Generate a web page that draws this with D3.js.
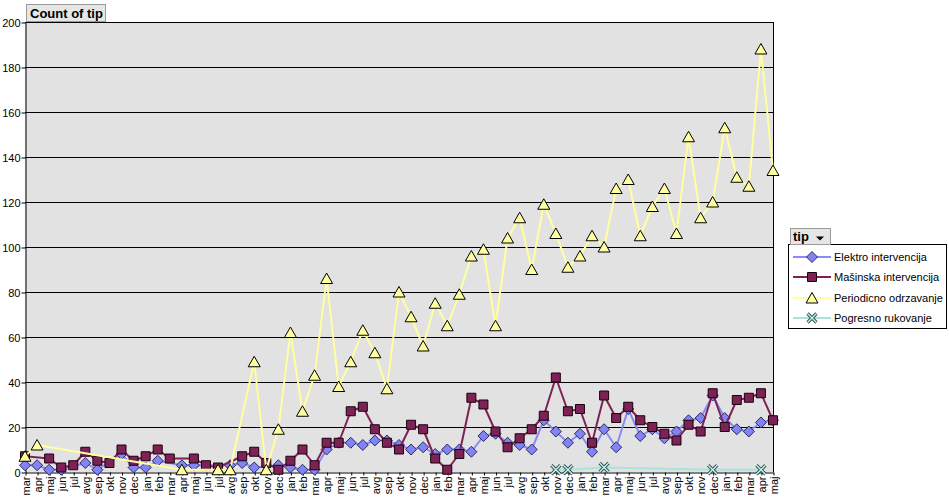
<!DOCTYPE html>
<html><head><meta charset="utf-8">
<script src="https://cdn.jsdelivr.net/npm/d3@7"></script>
<style>
html,body{margin:0;padding:0;background:#fff;}
svg{display:block;font-family:Arial,"Liberation Sans",sans-serif;}
</style></head>
<body>
<svg id="c" width="949" height="501"></svg>
<script>
const categories = ["mar","apr","maj","jun","jul","avg","sep","okt","nov","dec","jan","feb",
"mar","apr","maj","jun","jul","avg","sep","okt","nov","dec","jan","feb",
"mar","apr","maj","jun","jul","avg","sep","okt","nov","dec","jan","feb",
"mar","apr","maj","jun","jul","avg","sep","okt","nov","dec","jan","feb",
"mar","apr","maj","jun","jul","avg","sep","okt","nov","dec","jan","feb",
"mar","apr","maj"];
const elektro = [3,3,1,1,null,4,1,null,8,2,2,5,null,3,3,null,null,3,4,2,null,3,2,1,
1,10,13,13,12,14,14,12,10,11,8,10,10,9,16,17,13,12,10,23,18,13,17,9,
19,11,28,16,19,15,18,23,24,34,24,19,18,22,23];
const masinska = [7,null,6,2,3,9,5,4,10,5,7,10,6,null,6,3,2,null,7,9,4,1,5,10,
3,13,13,27,29,19,13,10,21,19,6,1,8,33,30,18,11,15,19,25,42,27,28,13,
34,24,29,23,20,17,14,21,18,35,20,32,33,35,23];
const periodicno = [7,12,null,null,null,null,null,null,null,null,null,null,null,1,null,null,1,1,null,49,1,19,62,27,
43,86,38,49,63,53,37,80,69,56,75,65,79,96,99,65,104,113,90,119,106,91,96,105,
100,126,130,105,118,126,106,149,113,120,153,131,127,188,134];
const pogresno = [null,null,null,null,null,null,null,null,null,null,null,null,null,null,null,null,null,null,null,null,null,null,null,null,
null,null,null,null,null,null,null,null,null,null,null,null,null,null,null,null,null,null,null,null,1,1,null,null,
2,null,null,null,null,null,null,null,null,1,null,null,null,1,null];
const seriesNames = ["Elektro intervencija","Mašinska intervencija","Periodicno odrzavanje","Pogresno rukovanje"];
const yTicks = [0,20,40,60,80,100,120,140,160,180,200];

const svg = d3.select("#c");
const L = 25, R = 773, T = 22, B = 472;
const x = d3.scalePoint().domain(d3.range(categories.length)).range([L, R]);
const y = d3.scaleLinear().domain([0, 200]).range([B, T]);

// plot area
svg.append("rect").attr("x", L).attr("y", T).attr("width", R - L).attr("height", B - T).attr("fill", "#e2e2e2");

// gridlines
svg.append("g").selectAll("line").data(yTicks.filter(d => d > 0)).join("line")
  .attr("x1", L).attr("x2", R).attr("y1", d => y(d) + 0.5).attr("y2", d => y(d) + 0.5)
  .attr("stroke", "#000").attr("stroke-width", 1);
// right border
svg.append("line").attr("x1", R + 0.5).attr("x2", R + 0.5).attr("y1", T).attr("y2", B).attr("stroke", "#000");

// y axis
const yAxis = svg.append("g").attr("transform", `translate(${L + 0.5},0.5)`)
  .call(d3.axisLeft(y).tickValues(yTicks).tickSize(4).tickSizeOuter(0));
yAxis.select(".domain").attr("stroke", "#000");
yAxis.selectAll("text").attr("font-size", 11).attr("fill", "#000").attr("x", -5);
yAxis.selectAll("line").attr("stroke", "#000");

// x axis
const xAxis = svg.append("g").attr("transform", `translate(0.5,${B + 0.5})`)
  .call(d3.axisBottom(x).tickFormat(i => categories[i]).tickSize(3).tickSizeOuter(0));
xAxis.select(".domain").attr("stroke", "#000");
xAxis.selectAll("line").attr("stroke", "#000");
xAxis.selectAll("text").attr("font-size", 11).attr("fill", "#000")
  .attr("transform", "rotate(-90)").attr("text-anchor", "end")
  .attr("x", -4).attr("y", 0).attr("dy", "0.35em");

// markers
const marker = {
  diamond: "M0,-5.5L5.5,0L0,5.5L-5.5,0Z",
  square: "M-4.5,-4.5H4.5V4.5H-4.5Z",
  triangle: "M0,-5.5L6,5L-6,5Z",
  x: "M-4.5,-4.5L4.5,4.5M4.5,-4.5L-4.5,4.5"
};
const series = [
  {name: seriesNames[0], data: elektro, line: "#8a8af2", lw: 2, m: "diamond", fill: "#8383f3", stroke: "#2a2a66"},
  {name: seriesNames[1], data: masinska, line: "#7c2254", lw: 2, m: "square", fill: "#7c2254", stroke: "#1a0010"},
  {name: seriesNames[2], data: periodicno, line: "#ffffa0", lw: 2, m: "triangle", fill: "#ffffa0", stroke: "#000"},
  {name: seriesNames[3], data: pogresno, line: "#a6e4dc", lw: 2, m: "x", fill: "#c8f4ee", stroke: "#2f4f4f"}
];

const line = d3.line().x(d => x(d.i)).y(d => y(d.v));
function drawMarker(g, type, fill, stroke) {
  if (type === "x") {
    g.append("path").attr("d", marker.x).attr("stroke", stroke).attr("stroke-width", 3.2).attr("fill", "none");
    g.append("path").attr("d", marker.x).attr("stroke", fill).attr("stroke-width", 1.4).attr("fill", "none");
  } else {
    g.append("path").attr("d", marker[type]).attr("fill", fill).attr("stroke", stroke).attr("stroke-width", 1);
  }
}

series.forEach(s => {
  const pts = s.data.map((v, i) => ({i, v})).filter(d => d.v !== null);
  const g = svg.append("g");
  g.append("path").datum(pts).attr("d", line).attr("fill", "none")
    .attr("stroke", s.line).attr("stroke-width", s.lw).attr("stroke-linejoin", "round");
  pts.forEach(d => {
    const mg = g.append("g").attr("transform", `translate(${x(d.i)},${y(d.v)})`);
    drawMarker(mg, s.m, s.fill, s.stroke);
  });
});

// title button
const tb = svg.append("g");
tb.append("rect").attr("x", 26.5).attr("y", 4.5).attr("width", 79).attr("height", 17)
  .attr("fill", "#e6e6e6").attr("stroke", "#9a9a9a");
tb.append("text").attr("x", 30).attr("y", 18).attr("font-size", 13).attr("font-weight", "bold")
  .attr("fill", "#000").text("Count of tip");

// legend
const lg = svg.append("g");
lg.append("rect").attr("x", 788.5).attr("y", 244.5).attr("width", 158).attr("height", 84)
  .attr("fill", "#fff").attr("stroke", "#000");
lg.append("rect").attr("x", 790.5).attr("y", 228.5).attr("width", 40).attr("height", 16)
  .attr("fill", "#e6e6e6").attr("stroke", "#9a9a9a");
lg.append("text").attr("x", 793).attr("y", 241).attr("font-size", 13).attr("font-weight", "bold").text("tip");
lg.append("path").attr("d", "M816,236.5L824,236.5L820,240.5Z").attr("fill", "#000");
const rowsY = [257, 277, 298, 318];
series.forEach((s, k) => {
  const yy = rowsY[k];
  lg.append("line").attr("x1", 793).attr("x2", 831).attr("y1", yy).attr("y2", yy)
    .attr("stroke", s.line).attr("stroke-width", 2);
  const mg = lg.append("g").attr("transform", `translate(812,${yy})`);
  drawMarker(mg, s.m, s.fill, s.stroke);
  lg.append("text").attr("x", 834).attr("y", yy + 4).attr("font-size", 11).attr("fill", "#000").text(s.name);
});
</script>
</body></html>
